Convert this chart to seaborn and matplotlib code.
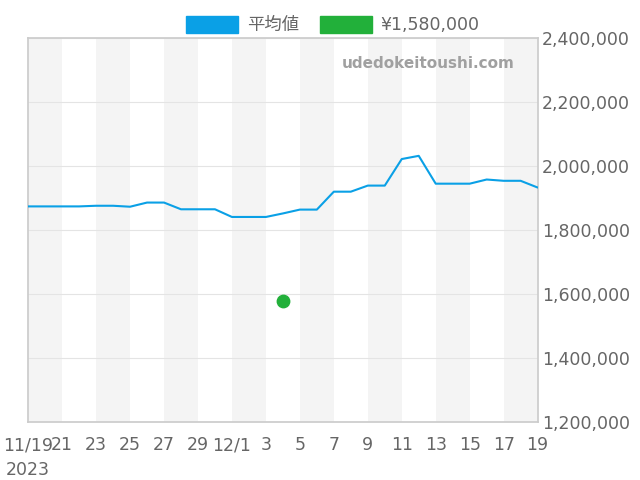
import matplotlib
matplotlib.use('Agg')
import matplotlib.pyplot as plt
import matplotlib.ticker as mticker
import matplotlib.patches as mpatches
import seaborn as sns
import pandas as pd

sns.set_theme(style='white')
plt.rcParams['font.family'] = ['DejaVu Sans', 'Noto Sans CJK JP']

fechas = pd.date_range('2023-11-19', '2023-12-19', freq='D')
promedio = [1875000, 1875000, 1875000, 1875000, 1877000, 1877000, 1874000, 1887000,
            1887000, 1866000, 1866000, 1866000, 1842000, 1842000, 1842000, 1853000,
            1865000, 1865000, 1921000, 1921000, 1940000, 1940000, 2023000, 2033000,
            1946000, 1946000, 1946000, 1959000, 1955000, 1955000, 1934000]
fecha_punto = pd.Timestamp('2023-12-04')
precio_punto = 1580000

tick_fechas = pd.date_range('2023-11-19', '2023-12-19', freq='2D')
tick_labels = ['11/19\n2023', '21', '23', '25', '27', '29', '12/1', '3', '5', '7',
               '9', '11', '13', '15', '17', '19']

df = pd.DataFrame({'fecha': fechas, 'valor': promedio})

fig, ax = plt.subplots(figsize=(6.4, 4.8), dpi=100)
fig.subplots_adjust(left=0.044, right=0.84, top=0.92, bottom=0.12)

for i, d in enumerate(tick_fechas[:-1]):
    if i % 2 == 0:
        ax.axvspan(d, tick_fechas[i + 1], color='#f4f4f4', zorder=0, lw=0)

sns.lineplot(data=df, x='fecha', y='valor', ax=ax, color='#0aa0e6', lw=1.5, zorder=3)
ax.scatter([fecha_punto], [precio_punto], color='#22b03a', s=80, zorder=4)

ax.set_xlim(fechas[0], fechas[-1])
ax.set_ylim(1200000, 2400000)
ax.yaxis.tick_right()
ax.yaxis.set_major_locator(mticker.MultipleLocator(200000))
ax.yaxis.set_major_formatter(mticker.FuncFormatter(lambda v, p: f'{int(v):,}'))
ax.set_xticks(tick_fechas)
ax.set_xticklabels(tick_labels, linespacing=1.5)
ax.tick_params(colors='#666666', labelsize=12.5, length=0)
ax.tick_params(axis='x', pad=10)
ax.tick_params(axis='y', pad=3)
ax.grid(axis='y', color='#e4e4e4', lw=0.8)
ax.set_xlabel('')
ax.set_ylabel('')
for s in ax.spines.values():
    s.set_color('#cccccc')

ax.text(0.955, 0.955, 'udedokeitoushi.com', transform=ax.transAxes, ha='right', va='top',
        fontsize=11, fontweight='bold', color='#a0a0a0')

handles = [mpatches.Patch(color='#0aa0e6', label='平均値'),
           mpatches.Patch(color='#22b03a', label='¥1,580,000')]
leg = fig.legend(handles=handles, loc='upper center', bbox_to_anchor=(0.52, 1.0), ncol=2,
                 frameon=False, fontsize=12.5, handlelength=3.0, handleheight=1.2,
                 columnspacing=1.2, handletextpad=0.5)
for t in leg.get_texts():
    t.set_color('#666666')

fig.savefig('out.png', dpi=100)
